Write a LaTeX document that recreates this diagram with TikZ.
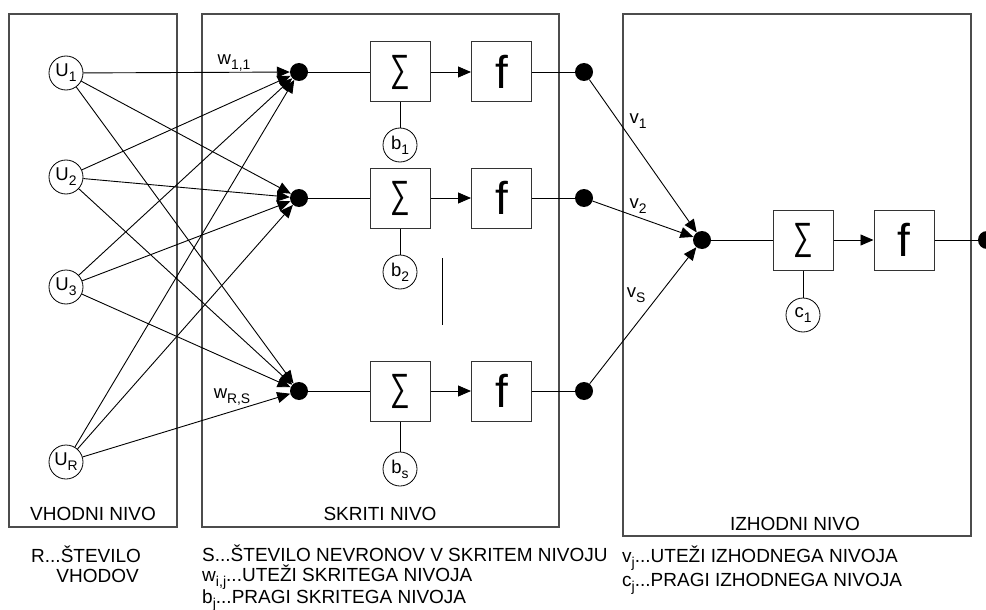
\documentclass[tikz,border=0pt]{standalone}
\usepackage{fontspec}
\usepackage{graphicx}
\setmainfont{Liberation Sans}
\usetikzlibrary{arrows.meta}
\newcommand\mysub[1]{\raisebox{-0.28em}{\scalebox{0.75}{#1}}}
\newcommand\mysum{\scalebox{0.72}[1]{∑}}
\begin{document}
\begin{tikzpicture}[x=1pt,y=-1pt,
  layer/.style={draw=black!70, line width=1.2pt},
  circ/.style={circle, draw, line width=0.8pt, minimum size=34pt, inner sep=0pt, font=\fontsize{18.5}{18.5}\selectfont},
  dot/.style={circle, fill=black, minimum size=18pt, inner sep=0pt},
  sbox/.style={draw=black!80, line width=1pt, minimum size=60pt, inner sep=0pt},
  sig/.style={sbox, font=\fontsize{38}{38}\selectfont},
  fbox/.style={sbox, font=\fontsize{46}{46}\selectfont},
  arr/.style={line width=0.9pt, -{Triangle[length=13pt,width=11pt]}},
  ln/.style={line width=0.9pt},
  txt/.style={font=\fontsize{19}{19}\selectfont, inner sep=0pt, text height=13.5pt, text depth=3.5pt},
  lbl/.style={font=\fontsize{18.5}{18.5}\selectfont, inner sep=0pt},
  ]
\useasboundingbox (0,0) rectangle (986,610);
% layer boxes
\draw[layer] (9,14) rectangle (177,527);
\draw[layer] (202,14) rectangle (559,527);
\draw[layer] (623,14) rectangle (971,536);

% input nodes
\node[circ] (U1) at (66,73) {U\mysub{1}};
\node[circ] (U2) at (66,177) {U\mysub{2}};
\node[circ] (U3) at (66,287) {U\mysub{3}};
\node[circ] (UR) at (66,462) {U\mysub{R}};

% hidden junctions
\node[dot] (d1) at (299,72) {};
\node[dot] (d2) at (299,198) {};
\node[dot] (d3) at (299,391) {};

\foreach \u in {U1,U2,U3,UR}{
  \foreach \d in {d1,d2,d3}{
    \draw[arr] (\u) -- (\d);
  }
}

% hidden neurons
\foreach \i/\y/\by/\b in {1/72/145/1, 2/198/272/2, 3/391/469/s}{
  \node[sig] (s\i) at (400,\y) {\mysum};
  \node[fbox] (f\i) at (501.5,\y) {f};
  \node[dot] (o\i) at (584,\y) {};
  \node[circ] (b\i) at (400,\by) {b\mysub{\b}};
  \draw[ln] (d\i) -- (s\i);
  \draw[arr] (s\i) -- (f\i);
  \draw[ln] (f\i) -- (o\i);
  \draw[ln] (s\i) -- (b\i);
}

% ellipsis line
\coordinate (e1) at (442,258);
\coordinate (e2) at (442,325);
\draw[ln] (e1) -- (e2);

% output neuron
\node[dot] (J) at (702,240) {};
\node[sig] (s4) at (803,240) {\mysum};
\node[fbox] (f4) at (904,240) {f};
\node[dot] (o4) at (987,240) {};
\node[circ] (c1) at (803,315) {c\mysub{1}};
\foreach \i in {1,2,3}{ \draw[arr] (o\i) -- (J); }
\draw[ln] (J) -- (s4);
\draw[arr] (s4) -- (f4);
\draw[ln] (f4) -- (o4);
\draw[ln] (s4) -- (c1);

% weight labels
\node[lbl] (w11) at (234,63) {w\mysub{1,1}};
\node[lbl] (wRS) at (232,397) {w\mysub{R,S}};
\node[lbl] (v1) at (638,121) {v\mysub{1}};
\node[lbl] (v2) at (638,206) {v\mysub{2}};
\node[lbl] (vS) at (636,295) {v\mysub{S}};

% layer names
\node[txt, anchor=base] (L1) at (93,520) {VHODNI NIVO};
\node[txt, anchor=base] (L2) at (380,520) {SKRITI NIVO};
\node[txt, anchor=base] (L3) at (795,530) {IZHODNI NIVO};

% legend
\node[txt, anchor=base west] (g1) at (31,562) {R...ŠTEVILO};
\node[txt, anchor=base east] (g2) at (139,582) {VHODOV};
\node[txt, anchor=base west] (g3) at (202,561) {S...ŠTEVILO NEVRONOV V SKRITEM NIVOJU};
\node[txt, anchor=base west] (g4) at (202,581) {w\mysub{i,j}...UTEŽI SKRITEGA NIVOJA};
\node[txt, anchor=base west] (g5) at (202,603) {b\mysub{j}...PRAGI SKRITEGA NIVOJA};
\node[txt, anchor=base west] (g6) at (622,562) {v\mysub{j}...UTEŽI IZHODNEGA NIVOJA};
\node[txt, anchor=base west] (g7) at (622,586) {c\mysub{j}...PRAGI IZHODNEGA NIVOJA};
\end{tikzpicture}
\end{document}
